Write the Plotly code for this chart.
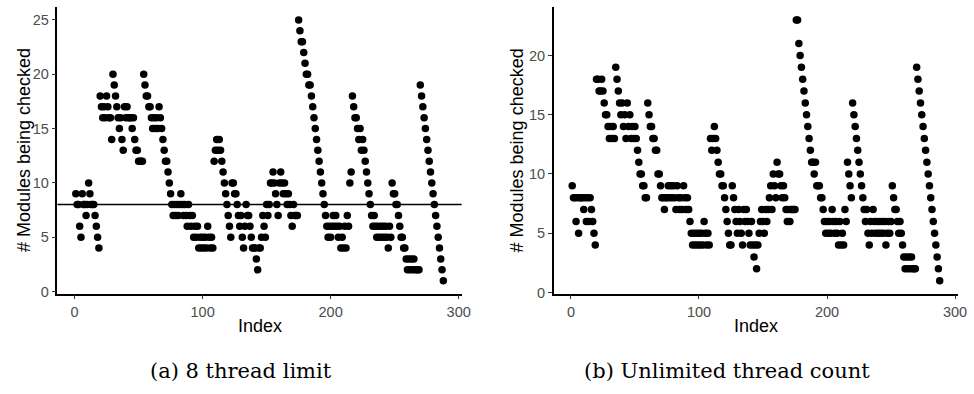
import plotly.graph_objects as go

# ---- data ----
left_values = [
    9, 8, 8, 6, 5, 9, 8, 8, 7, 8, 10, 9, 8, 8, 8, 7, 6, 5, 4,
    18, 17, 16, 17, 16, 18, 17, 16, 16, 14, 20, 19, 18, 17, 16, 15, 16, 14, 13, 17,
    16, 17, 16, 16, 16, 15, 16, 14, 13, 13, 12, 12, 12, 12,
    20, 19, 18, 18, 17, 17, 16, 15, 16, 15, 16, 15, 17, 16, 15, 14, 13, 12, 12, 11, 10, 9,
    8, 7, 8, 7, 8, 7, 8, 9, 8, 7, 8, 7, 6, 8, 7, 6, 7, 5, 6, 5, 6, 4, 5, 4, 5, 4, 5, 4, 6, 5, 4, 5, 4,
    12, 13, 14, 13, 14, 13, 12, 11, 10, 9, 8, 7, 6, 5, 10, 10, 9, 9, 8, 7, 6, 7, 5, 4, 6, 8, 7, 7, 6, 5,
    4, 4, 4, 3, 2,
    4, 4, 5, 7, 6, 5, 8, 7, 8, 10, 10, 11, 10, 9, 8, 7, 10, 11, 10, 9, 10, 9, 8, 9, 8, 7, 6, 8, 7, 7, 7,
    25, 24, 23, 23, 22, 21, 20, 20, 19, 19, 18, 17, 16, 15, 14, 13, 12, 11, 10, 9, 8, 7,
    6, 5, 6, 5, 6, 7, 6, 7, 6, 5, 6, 4, 5, 4, 6, 4, 7, 6, 10, 11,
    18, 17, 16, 16, 15, 14, 15, 13, 14, 13, 12, 11, 10, 9, 8, 7, 6, 7, 6, 5, 6, 5, 6, 5, 6, 5, 6, 5, 4, 6,
    5, 10, 9, 9, 8, 8, 7, 6, 5, 5, 4, 4, 3, 2, 3, 2, 3, 2, 3, 2, 2, 2, 2,
    19, 18, 17, 16, 15, 14, 13, 12, 11, 10, 9, 8, 7, 6, 5, 4, 3, 2, 1,
]

right_values = [
    9, 8, 8, 6, 8, 5, 8, 8, 8, 7, 8, 6, 8, 6, 8, 7, 6, 5, 4,
    18, 18, 17, 17, 18, 17, 16, 15, 15, 14, 13, 14, 13, 14, 13, 19, 18, 17, 16, 15,
    16, 14, 15, 13, 16, 14, 15, 13, 14, 13, 14, 13,
    12, 11, 10, 10, 9, 9, 8, 8, 16, 15, 14, 14, 13, 13, 12, 12, 10, 10, 9,
    8, 8, 7, 8, 8, 9, 8, 9, 8, 9, 8, 7, 9, 8, 7, 8, 7, 9, 8, 7, 8, 7, 6, 5, 4, 5, 4, 5, 4, 5,
    4, 5, 4, 6, 5, 4, 5, 4,
    13, 12, 13, 14, 13, 12, 11, 10, 10, 9, 9, 8, 7, 6, 5, 4, 4, 9, 8, 7, 6, 5, 7, 6, 5, 4, 7, 6, 7, 6,
    5, 4, 6, 4, 3, 4, 2, 4,
    5, 6, 7, 6, 5, 7, 6, 7, 8, 9, 7, 10, 9, 8, 11, 10, 10, 9, 8, 9, 8, 7, 6, 7, 6, 7, 7, 7, 7,
    23, 23, 21, 20, 19, 18, 17, 16, 15, 14, 13, 12, 11, 11, 10, 11, 9, 9, 9, 8, 8,
    7, 6, 5, 6, 5, 6, 5, 7, 6, 5, 6, 5, 4, 6, 4, 5, 4, 7, 6, 11, 10, 9, 8,
    16, 15, 14, 13, 12, 11, 10, 9, 8, 7, 6, 7, 5, 4, 6, 5, 7, 6, 5, 6, 5, 6, 5, 6, 5, 6, 4, 5, 6, 5,
    6, 9, 8, 7, 7, 6, 5, 6, 5, 4, 3, 2, 3, 2, 3, 2, 3, 2, 2, 2,
    19, 18, 17, 16, 15, 14, 13, 12, 11, 10, 9, 8, 7, 6, 5, 4, 3, 2, 1,
]

left_index = list(range(1, len(left_values) + 1))
right_index = list(range(1, len(right_values) + 1))

x_ticks = [0, 100, 200, 300]
left_y_ticks = [0, 5, 10, 15, 20, 25]
right_y_ticks = [0, 5, 10, 15, 20]
thread_limit = 8

x_title = "Index"
y_title = "# Modules being checked"
caption_left = "(a) 8 thread limit"
caption_right = "(b) Unlimited thread count"

# ---- layout helpers ----
W, H = 974, 394


def px(x):
    return x / W


def py(y):
    return 1 - y / H


def expand(lo, hi, f=0.05):
    d = (hi - lo) * f
    return [lo - d, hi + d]


marker = dict(color="black", size=7.5)

fig = go.Figure()
fig.add_trace(go.Scatter(x=left_index, y=left_values, mode="markers", marker=marker,
                         xaxis="x", yaxis="y", showlegend=False, hoverinfo="skip"))
fig.add_trace(go.Scatter(x=right_index, y=right_values, mode="markers", marker=marker,
                         xaxis="x2", yaxis="y2", showlegend=False, hoverinfo="skip"))

sans = "Liberation Sans, Arial, Helvetica, sans-serif"
axis_common = dict(
    showline=True, linecolor="black", linewidth=1.5,
    ticks="outside", ticklen=4, tickwidth=1.2, tickcolor="#333333",
    tickfont=dict(family=sans, size=14.5, color="#4D4D4D"),
    showgrid=False, zeroline=False, mirror=False,
)

top_px, bottom_px = 7, 299

fig.update_layout(
    width=W, height=H, margin=dict(l=0, r=0, t=0, b=0),
    paper_bgcolor="white", plot_bgcolor="white",
    xaxis=dict(domain=[px(58), px(466)], anchor="y",
               range=expand(min(left_index), max(left_index)),
               tickvals=x_ticks, **axis_common),
    yaxis=dict(domain=[py(bottom_px), py(top_px)], anchor="x",
               range=expand(min(left_values), max(left_values)),
               tickvals=left_y_ticks, **axis_common),
    xaxis2=dict(domain=[px(559), px(967)], anchor="y2",
                range=expand(min(right_index), max(right_index)),
                tickvals=x_ticks, **axis_common),
    yaxis2=dict(domain=[py(bottom_px), py(top_px)], anchor="x2",
                range=expand(min(right_values), max(right_values)),
                tickvals=right_y_ticks, **axis_common),
    shapes=[dict(type="line", xref="x domain", yref="y", x0=0, x1=1,
                 y0=thread_limit, y1=thread_limit,
                 line=dict(color="black", width=1.5))],
)

title_font = dict(family=sans, size=18, color="black")
cap_font = dict(family="DejaVu Serif, serif", size=21, color="black")
annotations = [
    dict(text=x_title, x=px(262), y=py(332), font=title_font),
    dict(text=x_title, x=px(763), y=py(332), font=title_font),
    dict(text=y_title, x=px(25), y=py(153), font=title_font, textangle=-90),
    dict(text=y_title, x=px(522), y=py(153), font=title_font, textangle=-90),
    dict(text=caption_left, x=px(243), y=py(378), font=cap_font),
    dict(text=caption_right, x=px(734), y=py(378), font=cap_font),
]
for a in annotations:
    a.update(xref="paper", yref="paper", showarrow=False,
             xanchor="center", yanchor="middle")
fig.update_layout(annotations=annotations)

fig.write_html("out.html")
